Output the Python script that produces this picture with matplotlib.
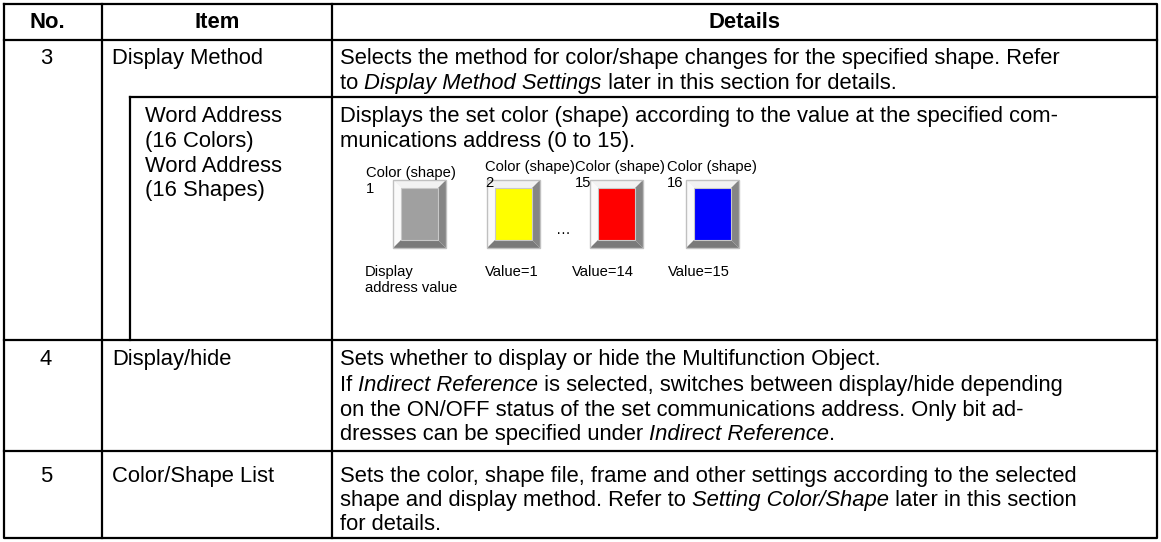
import matplotlib
matplotlib.use("agg")
from matplotlib import pyplot as plt
from matplotlib.patches import Polygon, Rectangle

FONT = "Liberation Sans"
SIZE = 15.8
SMALL = 10.6

headers = ["No.", "Item", "Details"]
nos = ["3", "4", "5"]
items = ["Display Method", "Display/hide", "Color/Shape List"]
sub_items = ["Word Address", "(16 Colors)", "Word Address", "(16 Shapes)"]

# each line is a list of (text, style) runs
details_3 = [
    [("Selects the method for color/shape changes for the specified shape. Refer", "normal")],
    [("to ", "normal"), ("Display Method Settings", "italic"), (" later in this section for details.", "normal")],
]
details_sub = [
    [("Displays the set color (shape) according to the value at the specified com-", "normal")],
    [("munications address (0 to 15).", "normal")],
]
details_4 = [
    [("Sets whether to display or hide the Multifunction Object.", "normal")],
    [("If ", "normal"), ("Indirect Reference", "italic"), (" is selected, switches between display/hide depending", "normal")],
    [("on the ON/OFF status of the set communications address. Only bit ad-", "normal")],
    [("dresses can be specified under ", "normal"), ("Indirect Reference", "italic"), (".", "normal")],
]
details_5 = [
    [("Sets the color, shape file, frame and other settings according to the selected", "normal")],
    [("shape and display method. Refer to ", "normal"), ("Setting Color/Shape", "italic"), (" later in this section", "normal")],
    [("for details.", "normal")],
]

button_colors = ["#a0a0a0", "#ffff00", "#ff0000", "#0000ff"]
button_numbers = ["1", "2", "15", "16"]
button_values = ["Display\naddress value", "Value=1", "Value=14", "Value=15"]

W, H = 1161, 542
fig = plt.figure(figsize=(W / 100, H / 100), dpi=100)
ax = fig.add_axes([0, 0, 1, 1])
ax.set_xlim(0, W)
ax.set_ylim(H, 0)
ax.axis("off")
renderer = fig.canvas.get_renderer()

# table grid
left, c1, c_in, c2, right = 4, 102, 130, 332, 1157
top, head_bot, r3_bot, sub_bot, r4_bot, bottom = 4, 40, 97, 340, 451, 538
lw = 1.6
ax.plot([left, right, right, left, left], [top, top, bottom, bottom, top], color="k", lw=lw)
for y in [head_bot, sub_bot, r4_bot]:
    ax.plot([left, right], [y, y], color="k", lw=lw)
ax.plot([c_in, right], [r3_bot, r3_bot], color="k", lw=lw)
ax.plot([c1, c1], [top, bottom], color="k", lw=lw)
ax.plot([c2, c2], [top, bottom], color="k", lw=lw)
ax.plot([c_in, c_in], [r3_bot, sub_bot], color="k", lw=lw)


def text_width(s, style, size):
    t = ax.text(0, 0, s + "|", fontsize=size, style=style, family=FONT)
    t2 = ax.text(0, 0, "|", fontsize=size, style=style, family=FONT)
    w = t.get_window_extent(renderer).width - t2.get_window_extent(renderer).width
    t.remove()
    t2.remove()
    return w


def draw_runs(x, y, runs, size=SIZE):
    for s, style in runs:
        ax.text(x, y, s, fontsize=size, style=style, family=FONT, va="baseline", ha="left")
        x += text_width(s, style, size)


def draw_lines(x, ys, lines):
    for y, runs in zip(ys, lines):
        draw_runs(x, y, runs)


def draw_button(x0, y0, color, w=53, h=68, b=8):
    light, dark = "#f2f2f2", "#858585"
    x1, y1 = x0 + w, y0 + h
    ax.add_patch(Polygon([(x0, y0), (x1, y0), (x1 - b, y0 + b), (x0 + b, y0 + b)], color=light, lw=0))
    ax.add_patch(Polygon([(x0, y0), (x0 + b, y0 + b), (x0 + b, y1 - b), (x0, y1)], color="#fafafa", lw=0))
    ax.add_patch(Polygon([(x1, y0), (x1, y1), (x1 - b, y1 - b), (x1 - b, y0 + b)], color=dark, lw=0))
    ax.add_patch(Polygon([(x0, y1), (x1, y1), (x1 - b, y1 - b), (x0 + b, y1 - b)], color="#7a7a7a", lw=0))
    ax.add_patch(Rectangle((x0 + b, y0 + b), w - 2 * b, h - 2 * b, facecolor=color, edgecolor="#c8c8c8", lw=0.8))
    ax.add_patch(Rectangle((x0, y0), w, h, fill=False, edgecolor="#c0c0c0", lw=1.0))


# header
for cx, h in zip([47, 217, 745], headers):
    ax.text(cx, 28, h, fontsize=SIZE, weight="bold", family=FONT, ha="center", va="baseline")

# number / item column
row_base = [64, 365, 482]
for y, n, it in zip(row_base, nos, items):
    ax.text(46, y, n, fontsize=SIZE, family=FONT, ha="center", va="baseline")
    ax.text(112, y, it, fontsize=SIZE, family=FONT, ha="left", va="baseline")
for y, s in zip([122, 147, 172, 196], sub_items):
    ax.text(145, y, s, fontsize=SIZE, family=FONT, ha="left", va="baseline")

# details column
dx = 340
draw_lines(dx, [64, 89], details_3)
draw_lines(dx, [122, 147], details_sub)
draw_lines(dx, [365, 391, 416, 440], details_4)
draw_lines(dx, [482, 506, 530], details_5)

# colour/shape illustration
bx = [393, 487, 590, 686]
lx = [366, 485, 575, 667]
ly = [177, 171, 171, 171]
for x, tx, ty, c, n in zip(bx, lx, ly, button_colors, button_numbers):
    draw_button(x, 180, c)
    ax.text(tx, ty, "Color (shape)", fontsize=SMALL, family=FONT, ha="left", va="baseline")
    ax.text(tx, ty + 16, n, fontsize=SMALL, family=FONT, ha="left", va="baseline")
ax.text(563, 234, "\u2026", fontsize=SMALL, family=FONT, ha="center", va="baseline")
vx = [365, 485, 572, 668]
for x, v in zip(vx, button_values):
    ax.text(x, 265, v, fontsize=SMALL, family=FONT, ha="left", va="top", linespacing=1.2)

fig.savefig("out.png", dpi=100)
